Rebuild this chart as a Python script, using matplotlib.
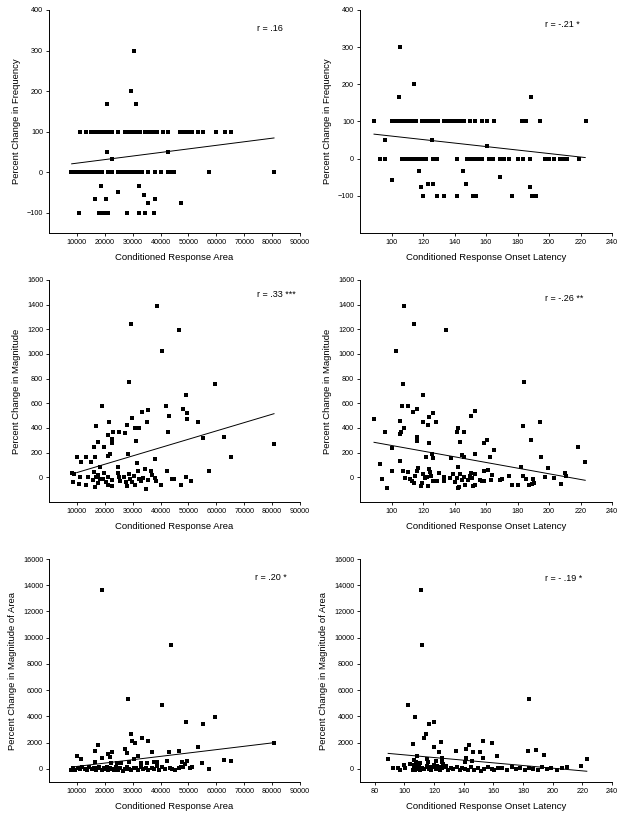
import matplotlib
matplotlib.use("Agg")
import matplotlib.pyplot as plt

plt.rcParams['font.family'] = ['Liberation Sans', 'DejaVu Sans']

# ---------------- Panel A: % change in frequency vs CR area ----------------
a_area = [11110, 13260, 15060, 16250, 17450, 18640, 19840, 21270, 22700, 24860,
          27250, 28440, 29870, 31310, 32740, 34420, 35850, 37280, 38720, 40990,
          42780, 46970, 48400, 49950, 51380, 53300, 55330, 59750, 63100, 65250,
          7890, 9080, 10520, 11950, 13380, 14820, 16250, 17690, 19120, 21270,
          22700, 24860, 26290, 27720, 29160, 30590, 32030, 33460, 35610, 38000,
          40150, 42540, 43980, 44930, 57240, 80680,
          30600, 29290, 20910, 31340, 20910, 22480, 42790, 18530, 32160, 24630,
          34070, 16610, 20440, 38130, 35620, 47340,
          10870, 17900, 19500, 20400, 21300, 27900, 32400, 34500, 37600]
a_freq = [100, 100, 100, 100, 100, 100, 100, 100, 100, 100,
          100, 100, 100, 100, 100, 100, 100, 100, 100, 100,
          100, 100, 100, 100, 100, 100, 100, 100, 100, 100,
          0, 0, 0, 0, 0, 0, 0, 0, 0, 0,
          0, 0, 0, 0, 0, 0, 0, 0, 0, 0,
          0, 0, 0, 0, 0, 0,
          300, 200, 167, 167, 50, 33, 50, -33, -33, -50,
          -56, -67, -67, -67, -75, -75,
          -100, -100, -100, -100, -100, -100, -100, -100, -100]
a_fit_x = [8130, 80680]
a_fit_y = [20.6, 84.4]

# ---------------- Panel B: % change in frequency vs onset latency ----------------
b_lat = [88.9, 100.5, 103.1, 105.6, 108.1, 110.7, 113.2, 115.8, 119.6, 122.1,
         124.6, 127.2, 129.7, 133.1, 135.6, 138.2, 140.7, 143.3, 145.8, 150.0,
         153.0, 157.6, 160.6, 165.3, 182.6, 185.2, 194.5, 223.3,
         92.7, 95.9, 106.9, 109.4, 111.9, 114.5, 117.0, 119.6, 122.1, 126.6,
         128.7, 141.6, 147.7, 150.2, 152.8, 155.3, 157.6, 161.9, 164.4, 168.9,
         171.4, 174.8, 180.5, 183.5, 187.7, 197.4, 200.0, 203.1, 207.0, 209.5,
         211.6, 218.8,
         105.6, 114.5, 105.0, 188.5, 95.9, 125.5, 160.4, 117.4, 145.2, 100.5,
         168.7, 118.7, 123.4, 126.6, 147.3, 188.0,
         120.2, 128.7, 133.3, 141.6, 152.0, 153.6, 176.7, 189.4, 191.5]
b_freq = [100, 100, 100, 100, 100, 100, 100, 100, 100, 100,
          100, 100, 100, 100, 100, 100, 100, 100, 100, 100,
          100, 100, 100, 100, 100, 100, 100, 100,
          0, 0, 0, 0, 0, 0, 0, 0, 0, 0,
          0, 0, 0, 0, 0, 0, 0, 0, 0, 0,
          0, 0, 0, 0, 0, 0, 0, 0, 0, 0,
          0, 0,
          300, 200, 167, 167, 50, 50, 33, -33, -33, -57,
          -50, -75, -67, -67, -67, -75,
          -100, -100, -100, -100, -100, -100, -100, -100, -100]
b_fit_x = [88.9, 223.0]
b_fit_y = [66, 3]

# ---------------- Panel C: % change in magnitude vs CR area ----------------
c_area = [38730, 29290, 46620, 40520, 28570, 59650, 49010,
          19120, 41960, 48200, 49590, 43150, 29880, 33230, 35620, 16730, 21520,
          27850, 30840, 32270, 35140, 49360, 53310, 21040, 22950, 25220, 27250,
          31310, 42790, 55330, 62870, 65140, 22470, 22470, 17690, 19840, 16010,
          28450, 21870, 21270, 38000, 10040, 13150, 16490, 11500, 15060, 18280,
          57370, 80680,
          8130, 9080, 11110, 8720, 10750, 13150, 14100, 16250, 16730, 15900,
          17450, 18280, 17690, 16490, 19840, 19480, 20320, 21270, 21030, 22470,
          22710, 24620, 24860, 25100, 25460, 26900, 27490, 27850, 28690, 29040,
          29880, 30590, 30830, 31430, 31790, 32270, 32980, 33590, 34420, 34660,
          35370, 36560, 36800, 38000, 38240, 40150, 42310, 43980, 44700, 47330,
          49120, 50900]
c_mag = [1390, 1241, 1192, 1022, 776, 757, 668,
         581, 581, 554, 519, 497, 484, 527, 543, 419, 451,
         422, 403, 400, 451, 470, 451, 346, 365, 365, 359,
         295, 365, 316, 330, 167, 308, 276, 286, 249, 246,
         186, 189, 173, 151, 162, 162, 167, 127, 127, 86,
         51, 273,
         38, 27, 0, -35, -54, -65, 0, 46, 0, -22,
         19, -16, -43, -81, 38, -11, -38, 0, -62, -70,
         -22, 81, 38, 0, -27, 0, -35, -70, 27, -13,
         -38, 11, -65, 113, 54, -16, -32, -8, 70, -97,
         -22, 51, 16, -8, -27, -62, 51, -13, -11, -65,
         5, -27]
c_fit_x = [9920, 80680]
c_fit_y = [38, 516]

# ---------------- Panel D: % change in magnitude vs onset latency ----------------
d_lat = [107.9, 114.5, 134.4, 102.9, 183.9, 107.3, 119.8,
         88.9, 106.4, 110.7, 113.4, 116.4, 126.6, 124.0, 120.2, 123.4, 128.0,
         105.4, 108.1, 105.4, 106.0, 95.9, 116.0, 116.4, 124.0, 100.5, 92.7,
         125.5, 126.6, 121.9, 105.4, 142.0, 141.4, 146.2, 143.5, 150.5, 153.0,
         144.5, 146.2, 158.9, 160.4, 165.3, 162.5, 153.0, 137.6, 183.7, 194.3,
         188.5, 194.9, 218.6, 222.8, 199.1, 182.2, 210.1, 142.0,
         94.2, 96.9, 100.5, 107.1, 110.3, 108.6, 111.7, 112.8, 114.5, 116.0,
         117.0, 114.9, 118.7, 119.1, 120.2, 121.3, 122.3, 124.0, 124.4, 125.1,
         126.1, 128.7, 123.4, 130.1, 133.3, 133.5, 137.1, 139.2, 141.4, 140.3,
         142.0, 142.8, 143.5, 145.0, 146.2, 146.6, 148.3, 149.8, 150.5, 151.3,
         152.0, 153.0, 153.0, 156.2, 157.2, 158.9, 158.9, 161.0, 163.2, 163.6,
         168.9, 170.3, 174.6, 176.3, 180.5, 183.7, 185.2, 187.3, 189.0, 190.7,
         189.6, 197.4, 203.4, 207.4, 210.8]
d_mag = [1392, 1241, 1192, 1022, 773, 757, 668,
         470, 581, 581, 527, 554, 519, 486, 451, 424, 451,
         457, 403, 351, 370, 365, 330, 297, 276, 240, 108,
         189, 154, 167, 130, 397, 365, 365, 289, 500, 541,
         181, 167, 276, 303, 222, 162, 186, 159, 419, 451,
         303, 162, 249, 127, 73, 86, 32, 86,
         -14, -84, 51, 54, 46, -3, -11, -33, -43, 51,
         76, 11, -68, -49, 27, -8, 0, 68, 46, 11,
         -33, -33, -70, 38, 5, -33, -3, 27, -8, -35,
         -89, -81, 27, -22, 0, -65, -22, 11, 32, -8,
         -70, -65, 27, -22, -33, -30, 49, 59, -22, 16,
         -22, -16, 11, -59, -65, 11, -11, -59, -54, -49,
         -16, 0, -5, -54, 11]
d_fit_x = [88.9, 223.0]
d_fit_y = [284, -24]

# ---------------- Panel E: % change in magnitude of area vs CR area ----------------
e_area = [19130, 43750, 28450, 40520, 59650, 49010, 55340, 29400, 33220, 35610,
          29880, 30830, 17690, 16490, 53300, 27250, 27840, 37040, 43020, 46600,
          10040, 11470, 21270, 21870, 22700, 32030, 18880, 16490, 30470, 62860,
          65130, 57360, 28680, 25810, 38600, 37760, 42180, 44220, 47560, 49360,
          48760, 50550, 54730, 48160, 47320, 35010, 38600, 32980, 22230, 24260,
          80680,
          7890, 8720, 9320, 10280, 11110, 11950, 12910, 13620, 14460, 15300,
          16250, 16730, 17450, 18040, 18880, 19600, 20080, 20670, 21270, 21870,
          22470, 23420, 23900, 24860, 25570, 26530, 27250, 27960, 28680, 29400,
          30350, 31310, 32030, 33000, 33820, 34650, 35610, 36810, 37760, 39430,
          40390, 41590, 43380, 45170, 46600, 51150]
e_magarea = [13640, 9420, 5300, 4850, 3980, 3580, 3400, 2660, 2330, 2126,
             2126, 1948, 1821, 1364, 1694, 1491, 1237, 1262, 1262, 1364,
             1008, 754, 1110, 932, 1262, 1008, 805, 500, 729, 678,
             602, -8, 500, 424, 500, 500, 602, -34, 551, 627,
             348, 43, 474, 170, 119, 424, 246, 474, 424, 474,
             1997,
             -60, 40, -120, 80, -30, 150, 10, -90, 120, -40,
             60, -110, 30, 180, -70, 90, -20, 140, -100, 50,
             0, -80, 110, -50, 70, -130, 20, 160, -10, -90,
             100, 40, -60, 130, -30, 80, -110, 60, 10, -70,
             120, -40, 90, -100, 30, 150]
e_fit_x = [9000, 80680]
e_fit_y = [160, 1997]

# ---------------- Panel F: % change in magnitude of area vs onset latency ----------------
f_lat = [110.9, 111.8, 102.6, 184.0, 107.3, 119.9, 116.8, 114.3, 113.4, 124.6,
         106.0, 119.9, 134.5, 141.3, 143.5, 146.5, 151.0, 152.8, 158.8, 162.7,
         123.5, 108.2, 183.1, 188.5, 194.1, 141.3, 145.3, 153.2, 140.8, 125.1,
         125.5, 106.7, 107.8, 110.5, 116.1, 115.0, 121.1, 103.7, 99.9, 92.5,
         95.9, 97.0, 100.4, 106.0, 109.4, 89.1, 223.4, 219.1,
         106.5, 106.5, 107.5, 108.0, 110.0, 112.0, 115.0, 117.0, 120.0, 122.0,
         126.0, 128.0, 124.0,
         107.1, 108.9, 110.5, 112.1, 113.4, 115.0, 116.5, 117.9, 119.5, 121.1,
         122.4, 124.0, 125.6, 127.3, 129.6, 131.4, 133.0, 135.2, 137.5, 139.0,
         140.8, 142.6, 144.9, 147.1, 149.4, 151.6, 153.9, 156.1, 158.8, 160.6,
         162.9, 165.6, 168.9, 172.3, 175.0, 178.2, 181.3, 184.0, 187.0, 189.9,
         192.6, 196.0, 198.9, 202.7, 206.1, 209.7]
f_magarea = [13640, 9420, 4850, 5300, 3980, 3580, 3420, 2660, 2330, 2075,
             1898, 1694, 1364, 1516, 1821, 1288, 1262, 2100, 1948, 1008,
             1262, 1008, 1364, 1440, 1059, 805, 602, 856, 500, 805,
             551, 678, 500, 424, 551, 729, 602, 373, 297, 94,
             43, -85, 43, -85, -34, 729, 754, 246,
             300, 150, 450, 200, 350, 100, 250, 150, 300, 200,
             400, 200, 150,
             -60, 40, -120, 80, -30, 150, 10, -90, 120, -40,
             60, -110, 30, 180, -70, 90, -20, 140, -100, 50,
             0, -80, 110, -50, 70, -130, 20, 160, -10, -90,
             100, 40, -60, 130, -30, 80, -110, 60, 10, -70,
             120, -40, 90, -100, 30, 150]
f_fit_x = [89.0, 223.0]
f_fit_y = [1180, -180]

# ---------------- axis definitions ----------------
area_ticks = [10000, 20000, 30000, 40000, 50000, 60000, 70000, 80000, 90000]
lat_ticks_top = [100, 120, 140, 160, 180, 200, 220, 240]
lat_ticks_bot = [80, 100, 120, 140, 160, 180, 200, 220, 240]
freq_ticks = [-100, 0, 100, 200, 300, 400]
mag_ticks = [0, 200, 400, 600, 800, 1000, 1200, 1400, 1600]
magarea_ticks = [0, 2000, 4000, 6000, 8000, 10000, 12000, 14000, 16000]

xlab_area = "Conditioned Response Area"
xlab_lat = "Conditioned Response Onset Latency"

W, H = 626, 817
fig = plt.figure(figsize=(W / 100, H / 100), dpi=100)


def make_ax(px_left, px_right, px_top, px_bottom):
    return fig.add_axes([px_left / W, 1 - px_bottom / H,
                         (px_right - px_left) / W, (px_bottom - px_top) / H])


panels = [
    ((49, 300, 10, 233), a_area, a_freq, a_fit_x, a_fit_y, (0, 90000), area_ticks,
     (-150, 400), freq_ticks, "Percent Change in Frequency", xlab_area, "r = .16", (0.829, 0.915)),
    ((360, 612, 10, 233), b_lat, b_freq, b_fit_x, b_fit_y, (80, 240), lat_ticks_top,
     (-200, 400), freq_ticks, "Percent Change in Frequency", xlab_lat, "r = -.21 *", (0.734, 0.933)),
    ((49, 300, 280, 502), c_area, c_mag, c_fit_x, c_fit_y, (0, 90000), area_ticks,
     (-200, 1600), mag_ticks, "Percent Change in Magnitude", xlab_area, "r = .33 ***", (0.827, 0.936)),
    ((360, 612, 280, 502), d_lat, d_mag, d_fit_x, d_fit_y, (80, 240), lat_ticks_top,
     (-200, 1600), mag_ticks, "Percent Change in Magnitude", xlab_lat, "r = -.26 **", (0.734, 0.918)),
    ((49, 300, 559, 782), e_area, e_magarea, e_fit_x, e_fit_y, (0, 90000), area_ticks,
     (-1000, 16000), magarea_ticks, "Percent Change in Magnitude of Area", xlab_area, "r = .20 *", (0.821, 0.916)),
    ((360, 612, 559, 782), f_lat, f_magarea, f_fit_x, f_fit_y, (70, 240), lat_ticks_bot,
     (-1000, 16000), magarea_ticks, "Percent Change in Magnitude of Area", xlab_lat, "r = - .19 *", (0.734, 0.913)),
]

for box, xs, ys, fx, fy, xlim, xt, ylim, yt, ylab, xlab, rtxt, rpos in panels:
    ax = make_ax(*box)
    ax.plot(fx, fy, color='black', lw=0.7, zorder=2)
    ax.plot(xs, ys, linestyle='none', marker='s', ms=3.1, mew=0,
            color='black', zorder=3)
    ax.set_xlim(*xlim)
    ax.set_ylim(*ylim)
    ax.set_xticks(xt)
    ax.set_yticks(yt)
    for s in ('top', 'right'):
        ax.spines[s].set_visible(False)
    for s in ('left', 'bottom'):
        ax.spines[s].set_linewidth(0.7)
    ax.tick_params(axis='both', direction='out', length=2.2, width=0.6,
                   labelsize=5.2, pad=2, colors='black')
    ax.set_ylabel(ylab, fontsize=6.8, labelpad=4.5)
    ax.set_xlabel(xlab, fontsize=6.8, labelpad=5)
    ax.text(rpos[0], rpos[1], rtxt, transform=ax.transAxes, fontsize=6.5,
            ha='left', va='center')

fig.savefig("out.png", dpi=100)
